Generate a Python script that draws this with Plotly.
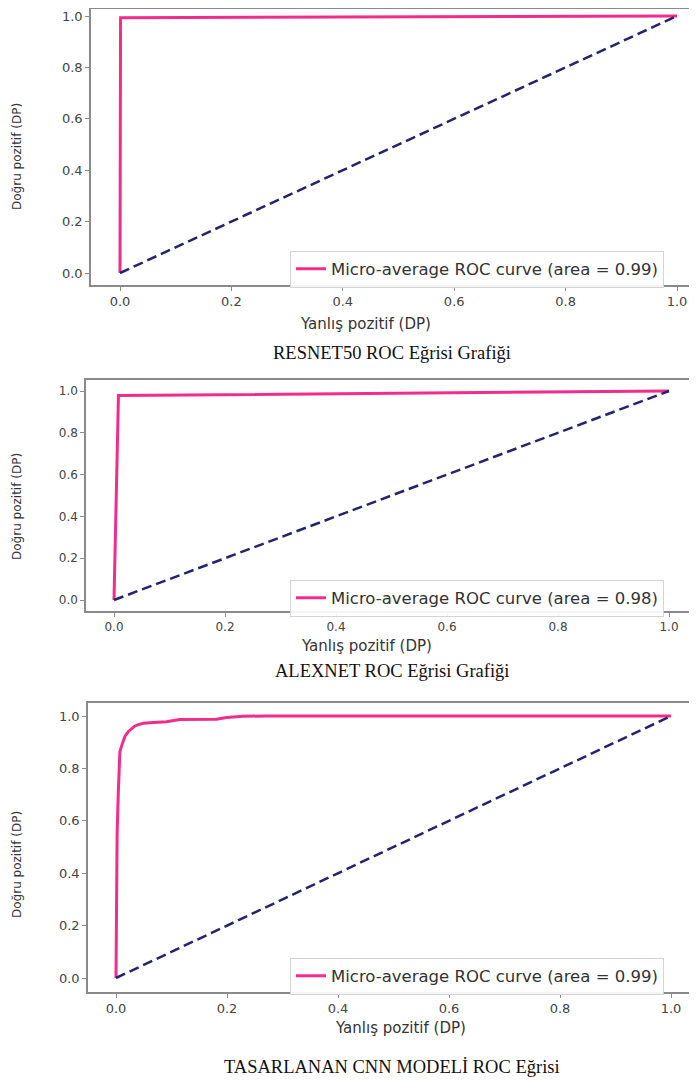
import plotly.graph_objects as go

W, H = 697, 1082
OFF = 8  # the page body adds an 8px margin around the figure

# ROC points
resnet_fpr = [0.0, 0.001, 1.0]
resnet_tpr = [0.0, 0.993, 1.0]

alexnet_fpr = [0.0, 0.008, 1.0]
alexnet_tpr = [0.0, 0.978, 1.0]

cnn_fpr = [0.0, 0.001, 0.002, 0.004, 0.006, 0.007, 0.010, 0.013, 0.016, 0.022,
           0.028, 0.034, 0.042, 0.049, 0.060, 0.073, 0.091, 0.115, 0.151, 0.181,
           0.199, 0.229, 0.27, 0.40, 0.60, 0.80, 1.0]
cnn_tpr = [0.0, 0.30, 0.55, 0.70, 0.80, 0.864, 0.885, 0.908, 0.922, 0.94,
           0.952, 0.962, 0.968, 0.972, 0.974, 0.976, 0.978, 0.987, 0.988, 0.988,
           0.994, 0.999, 1.0, 1.0, 1.0, 1.0, 1.0]

chance = [0.0, 1.0]

legend_labels = [
    "Micro-average ROC curve (area = 0.99)",
    "Micro-average ROC curve (area = 0.98)",
    "Micro-average ROC curve (area = 0.99)",
]
captions = [
    "RESNET50 ROC Eğrisi Grafiği",
    "ALEXNET ROC Eğrisi Grafiği",
    "TASARLANAN CNN MODELİ ROC Eğrisi",
]
tick_vals = [0.0, 0.2, 0.4, 0.6, 0.8, 1.0]
tick_text = ["0.0", "0.2", "0.4", "0.6", "0.8", "1.0"]
x_title = "Yanlış pozitif (DP)"
y_title = "Doğru pozitif (DP)"

curves = [(resnet_fpr, resnet_tpr), (alexnet_fpr, alexnet_tpr), (cnn_fpr, cnn_tpr)]

# screen-pixel layout of each panel: frame left/top/bottom, pixel pos of 0 and 1 on each axis
panels = [
    dict(left=91, top=3, bottom=285, x0=120, x1=677, y0=273, y1=16,
         leg_mid=269, xt=(365, 324), yt=157, cap=353, tick=13),
    dict(left=86, top=380, bottom=611, x0=114, x1=669, y0=600, y1=391,
         leg_mid=598, xt=(366, 646), yt=507, cap=671, tick=12),
    dict(left=88, top=703, bottom=992, x0=116, x1=671, y0=978, y1=716,
         leg_mid=976, xt=(400, 1028), yt=865, cap=1067, tick=13),
]


def px(x):
    return (x - OFF) / W


def py(y):
    return 1 - (y - OFF) / H


PINK = "#F22C8A"
NAVY = "#23236F"
SPINE = "#8a8a8a"
TXT = "#444444"

fig = go.Figure()
annotations = []
layout = {}

for i, (p, (fpr, tpr)) in enumerate(zip(panels, curves)):
    n = "" if i == 0 else str(i + 1)
    leg = "legend" + n
    fig.add_trace(go.Scatter(
        x=fpr, y=tpr, mode="lines", name=legend_labels[i],
        line=dict(color=PINK, width=3), xaxis="x" + n, yaxis="y" + n, legend=leg,
    ))
    fig.add_trace(go.Scatter(
        x=chance, y=chance, mode="lines", showlegend=False,
        line=dict(color=NAVY, width=2.5, dash="10px,5px"), xaxis="x" + n, yaxis="y" + n,
    ))

    xs = p["x1"] - p["x0"]
    ys = p["y0"] - p["y1"]
    top = max(p["top"], OFF + 1)
    right = W + OFF
    axis_common = dict(
        showgrid=False, zeroline=False, showline=True, mirror=True, automargin=False,
        linecolor=SPINE, linewidth=1.5, ticks="outside", ticklen=4, tickwidth=1,
        tickcolor=SPINE, tickvals=tick_vals, ticktext=tick_text,
        ticklabeloverflow="allow",
        tickfont=dict(family="DejaVu Sans", size=p["tick"], color=TXT),
    )
    layout["xaxis" + n] = dict(
        axis_common,
        domain=[px(p["left"]), 1.0],
        range=[(p["left"] - p["x0"]) / xs, (right - p["x0"]) / xs],
        anchor="y" + n,
    )
    layout["yaxis" + n] = dict(
        axis_common,
        domain=[py(p["bottom"]), min(1.0, py(top))],
        range=[-(p["bottom"] - p["y0"]) / ys, 1 + (p["y1"] - top) / ys],
        anchor="x" + n,
    )
    layout[leg] = dict(
        x=px(290), y=py(p["leg_mid"]), xanchor="left", yanchor="middle",
        bgcolor="rgba(255,255,255,0.9)", bordercolor="#d4d4d4", borderwidth=1,
        font=dict(family="DejaVu Sans", size=16.5, color="#333333"),
        tracegroupgap=0, itemwidth=30,
    )

    annotations.append(dict(
        text=x_title, x=px(p["xt"][0]), y=py(p["xt"][1]),
        xanchor="center", yanchor="middle",
        font=dict(family="DejaVu Sans", size=15, color="#333333"),
    ))
    annotations.append(dict(
        text=y_title, x=px(17), y=py(p["yt"]),
        xanchor="center", yanchor="middle", textangle=-90,
        font=dict(family="DejaVu Sans", size=12, color="#333333"),
    ))
    annotations.append(dict(
        text=captions[i], x=px(392), y=py(p["cap"]),
        xanchor="center", yanchor="middle",
        font=dict(family="Liberation Serif", size=18.5, color="#111111"),
    ))

for a in annotations:
    a.update(xref="paper", yref="paper", showarrow=False)

fig.update_layout(
    width=W, height=H,
    margin=dict(l=0, r=0, t=0, b=0),
    paper_bgcolor="white", plot_bgcolor="white",
    annotations=annotations,
    **layout,
)

fig.write_html("out.html")
